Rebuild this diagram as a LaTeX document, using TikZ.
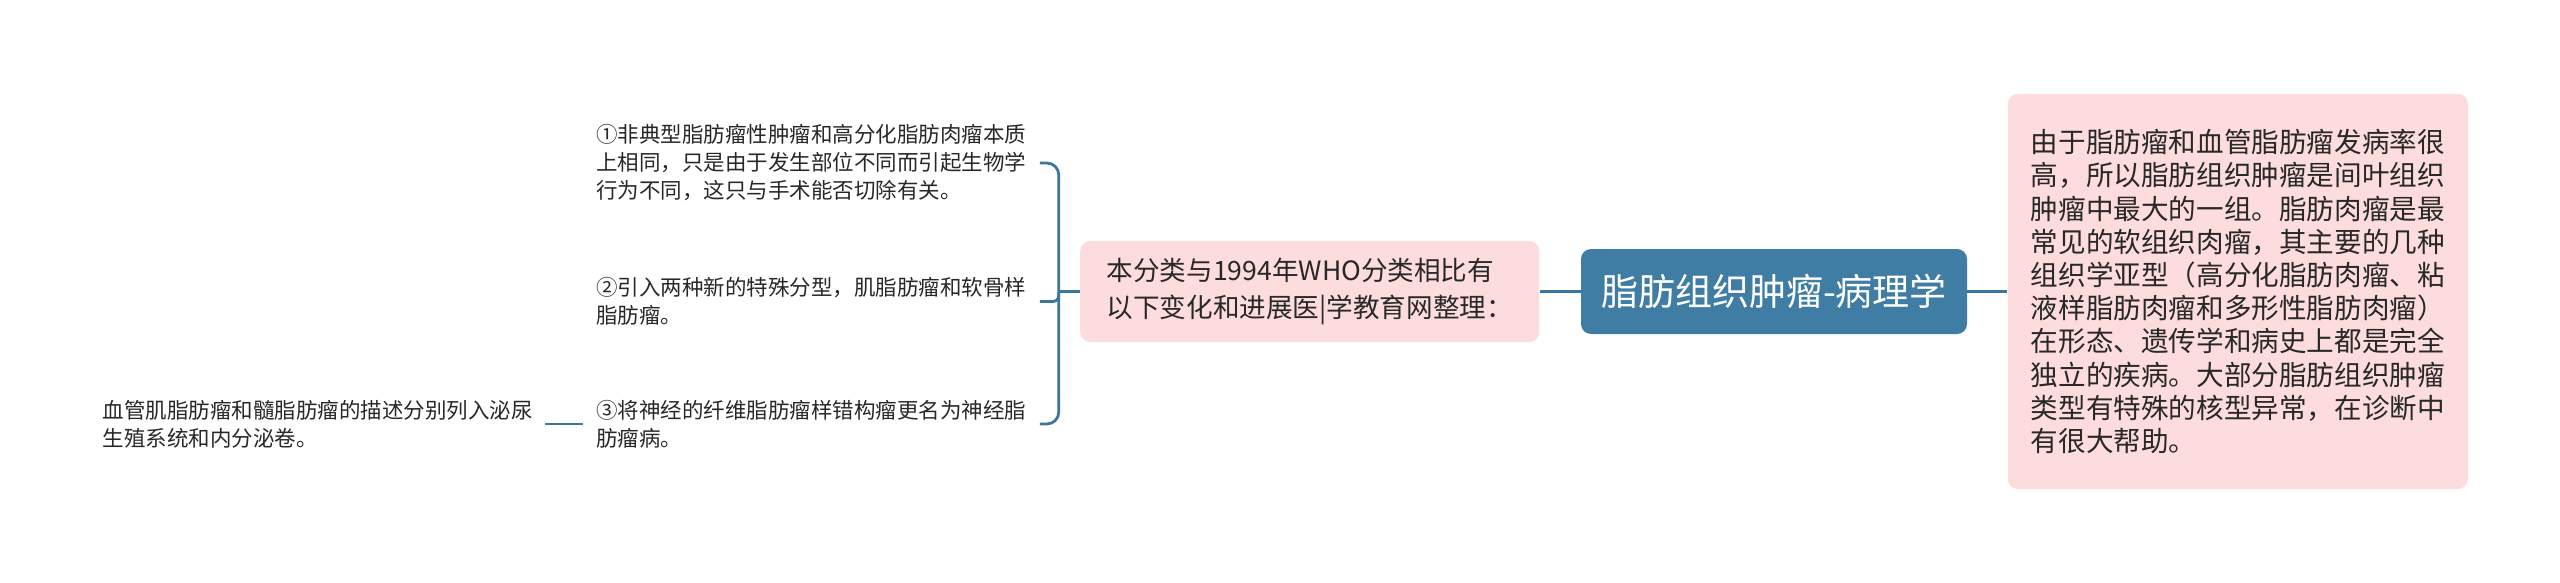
\documentclass[tikz,border=0pt]{standalone}
\usepackage{fontspec}
\setmainfont{Noto Sans CJK SC}
\usetikzlibrary{positioning}
\definecolor{rootblue}{RGB}{63,125,165}
\definecolor{linkblue}{RGB}{58,118,160}
\definecolor{notepink}{RGB}{252,220,220}
\definecolor{inkgray}{RGB}{40,40,40}
\tikzstyle{rootbox} = [rectangle, rounded corners=5pt, minimum width=193pt, minimum height=42.5pt, fill=rootblue, text=white, font=\fontsize{18.5}{22}\selectfont]
\tikzstyle{pinkbox} = [rectangle, rounded corners=5pt, fill=notepink, align=left, text=inkgray]
\tikzstyle{leaf} = [inner xsep=6.5pt, inner ysep=0pt, text width=215pt, align=left, text=inkgray, font=\fontsize{10.75}{14}\selectfont]
\tikzstyle{link} = [line width=1.4pt, draw=linkblue]

\begin{document}
\begin{tikzpicture}
    \useasboundingbox (0,0) rectangle (1280pt,-291.5pt);
    \node (Root) [rootbox] at (887pt,-145.75pt) {脂肪组织肿瘤-病理学};
    \node (Mid) [pinkbox, left=20.5pt of Root, minimum width=229.5pt, minimum height=50.5pt, font=\fontsize{13.3}{18.3}\selectfont] {本分类与1994年WHO分类相比有\\以下变化和进展医|学教育网整理：};
    \node (Note) [pinkbox, right=20pt of Root, minimum width=230pt, minimum height=197.5pt, font=\fontsize{13.8}{16.6}\selectfont] {由于脂肪瘤和血管脂肪瘤发病率很\\高，所以脂肪组织肿瘤是间叶组织\\肿瘤中最大的一组。脂肪肉瘤是最\\常见的软组织肉瘤，其主要的几种\\组织学亚型（高分化脂肪肉瘤、粘\\液样脂肪肉瘤和多形性脂肪肉瘤）\\在形态、遗传学和病史上都是完全\\独立的疾病。大部分脂肪组织肿瘤\\类型有特殊的核型异常，在诊断中\\有很大帮助。};
    \node (ItemA) [leaf, left=20pt of Mid, yshift=64.25pt] {①非典型脂肪瘤性肿瘤和高分化脂肪肉瘤本质\\上相同，只是由于发生部位不同而引起生物学\\行为不同，这只与手术能否切除有关。};
    \node (ItemB) [leaf, left=20pt of Mid, yshift=-5pt] {②引入两种新的特殊分型，肌脂肪瘤和软骨样\\脂肪瘤。};
    \node (ItemC) [leaf, left=20pt of Mid, yshift=-66.25pt] {③将神经的纤维脂肪瘤样错构瘤更名为神经脂\\肪瘤病。};
    \node (Extra) [leaf, left=19pt of ItemC, inner xsep=6pt] {血管肌脂肪瘤和髓脂肪瘤的描述分别列入泌尿\\生殖系统和内分泌卷。};
    \coordinate (Brace) at ([xshift=-10.5pt]Mid.west);
    \draw [link] (Root) -- (Mid);
    \draw [link] (Root) -- (Note);
    \draw [link] (Mid) -- (Brace);
    \draw [link, rounded corners=6pt] (Brace) |- (ItemA.east);
    \draw [link, rounded corners=3pt] (Brace) |- (ItemB.east);
    \draw [link, rounded corners=6pt] (Brace) |- (ItemC.east);
    \draw [link] (ItemC) -- (Extra);
\end{tikzpicture}
\end{document}
